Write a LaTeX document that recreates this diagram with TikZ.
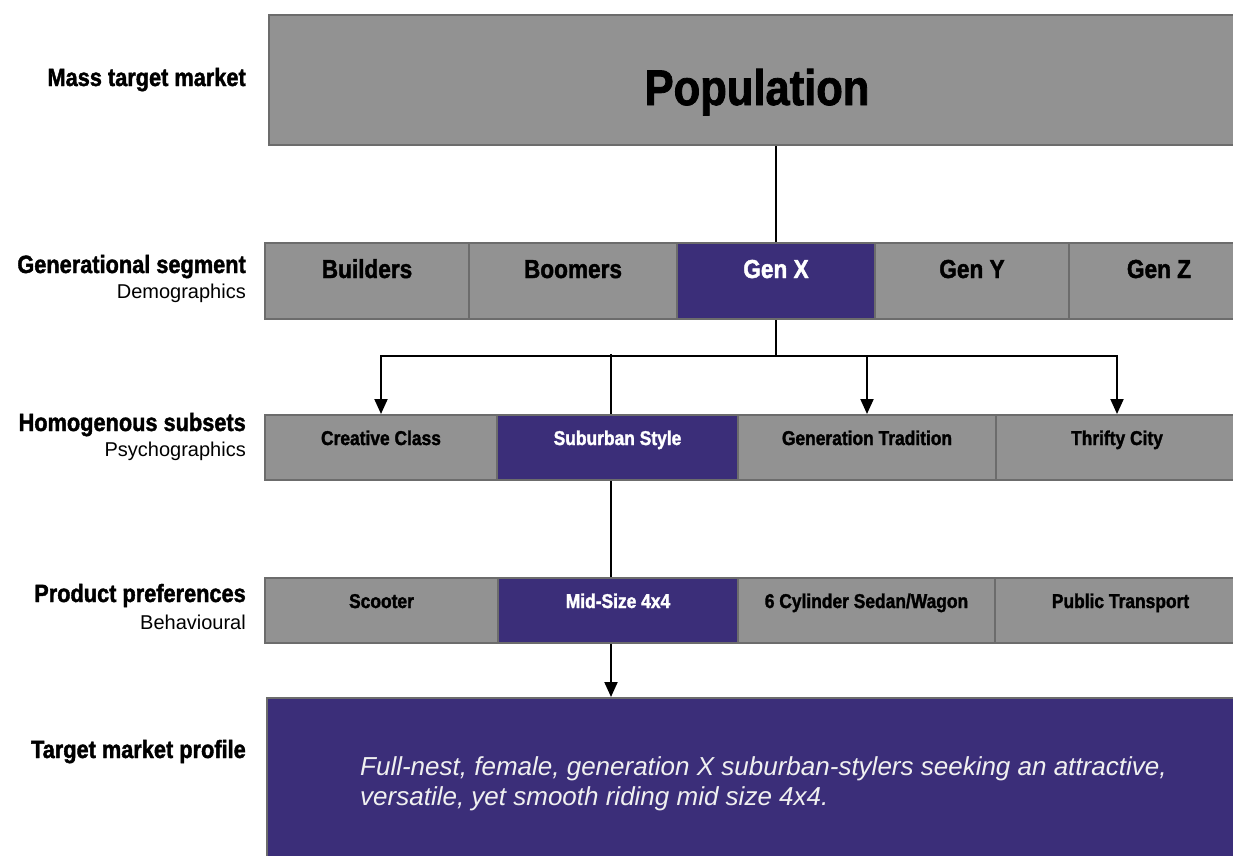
\documentclass[tikz,border=0pt]{standalone}
\usepackage{fontspec}
\setmainfont{Liberation Sans}
\newfontfamily\headfont[FakeStretch=0.87,BoldFeatures={FakeBold=1.6}]{Liberation Sans}
\usetikzlibrary{arrows.meta,positioning}
\definecolor{cellgray}{RGB}{146,146,146}
\definecolor{cellline}{RGB}{108,108,108}
\definecolor{segpurple}{RGB}{59,46,121}
\definecolor{paletext}{RGB}{240,240,240}

\begin{document}
\begin{tikzpicture}[
x=1pt, y=-1pt,
cell/.style={draw=cellline, line width=2pt, fill=cellgray, anchor=north west, inner sep=0pt,
  font=\headfont\bfseries\fontsize{20}{24}\selectfont},
chosen/.style={fill=segpurple, text=white},
gen/.style={cell, minimum height=76pt, text height=35pt, text depth=41pt,
  font=\headfont\bfseries\fontsize{26}{30}\selectfont},
sub/.style={cell, minimum height=65pt, text height=30pt, text depth=35pt},
level/.style={anchor=base east, inner sep=0pt, font=\headfont\bfseries\fontsize{25}{30}\selectfont},
basis/.style={anchor=base east, inner sep=0pt, font=\fontsize{20}{24}\selectfont},
link/.style={line width=2pt},
drop/.style={line width=2pt, -{Triangle[length=15pt,width=13pt]}}
]
\useasboundingbox (0,0) rectangle (1233,855);
\clip (0,0) rectangle (1233,855);

% Top level
\node[cell, minimum width=976pt, minimum height=130pt, text height=90pt, text depth=40pt,
  font=\headfont\bfseries\fontsize{50}{56}\selectfont] (pop) at (268,14) {Population};

% Generations
\node[gen, minimum width=204pt] (builders) at (264,242) {Builders};
\node[gen, minimum width=208pt] (boomers) at (468,242) {Boomers};
\node[gen, chosen, minimum width=198pt] (genx) at (676,242) {Gen X};
\node[gen, minimum width=194pt] (geny) at (874,242) {Gen Y};
\node[gen, minimum width=180pt] (genz) at (1068,242) {Gen Z};

% Psychographic groups
\node[sub, minimum width=232pt] (creative) at (264,414) {Creative Class};
\node[sub, chosen, minimum width=241pt] (suburban) at (496,414) {Suburban Style};
\node[sub, minimum width=258pt] (tradition) at (737,414) {Generation Tradition};
\node[sub, minimum width=242pt] (thrifty) at (995,414) {Thrifty City};

% Vehicles
\node[sub, minimum width=233pt] (scooter) at (264,577) {Scooter};
\node[sub, chosen, minimum width=240pt] (midsize) at (497,577) {Mid-Size 4x4};
\node[sub, minimum width=257pt] (sedan) at (737,577) {6 Cylinder Sedan/Wagon};
\node[sub, minimum width=251pt] (transport) at (994,577) {Public Transport};

% Profile
\node[cell, chosen, minimum width=980pt, minimum height=170pt] (profile) at (266,697) {};
\node[anchor=base west, inner sep=0pt, align=left, text=paletext,
  font=\itshape\fontsize{26}{30}\selectfont] (profiletext) at (360,805)
  {Full-nest, female, generation X suburban-stylers seeking an attractive,\\
   versatile, yet smooth riding mid size 4x4.};

% Row labels
\node[level] (mass) at (246,86) {Mass target market};
\node[level] (generational) at (246,273) {Generational segment};
\node[basis] (demo) at (246,298) {Demographics};
\node[level] (homogenous) at (246,431) {Homogenous subsets};
\node[basis] (psycho) at (246,456) {Psychographics};
\node[level] (preferences) at (246,602) {Product preferences};
\node[basis] (behav) at (246,629) {Behavioural};
\node[level] (profilelabel) at (246,758) {Target market profile};

% Connectors
\coordinate (split) at ([yshift=-36pt]genx.south);
\coordinate (trunk) at (611,354);
\draw[link] (genx.north |- pop.south) -- (genx.north);
\draw[link] (genx.south) -- (split);
\draw[drop] (split) -| (creative.north);
\draw[drop] (split) -| (thrifty.north);
\draw[drop] (split -| tradition.north) -- (tradition.north);
\draw[link] (trunk) -- (trunk |- suburban.north);
\draw[link] (trunk |- suburban.south) -- (trunk |- midsize.north);
\draw[drop] (trunk |- midsize.south) -- (trunk |- profile.north);
\end{tikzpicture}
\end{document}
